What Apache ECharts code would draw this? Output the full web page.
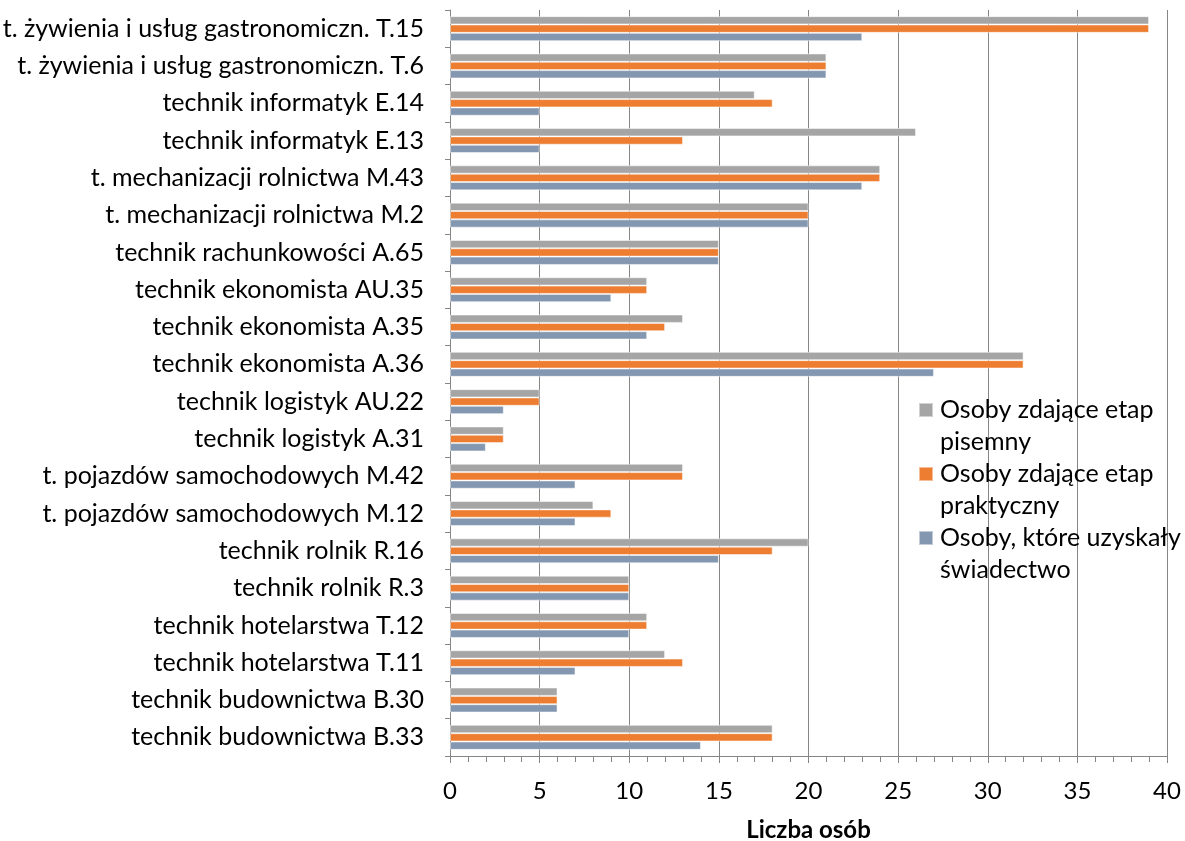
<!DOCTYPE html>
<html>
<head>
<meta charset="utf-8">
<script src="https://cdn.jsdelivr.net/npm/echarts@6/dist/echarts.min.js"></script>
<style>
html,body{margin:0;padding:0;background:#fff;}
#chart{width:1185px;height:841px;}
</style>
</head>
<body>
<div id="chart"></div>
<script>
const categories = [
  't. żywienia i usług gastronomiczn. T.15',
  't. żywienia i usług gastronomiczn. T.6',
  'technik informatyk E.14',
  'technik informatyk E.13',
  't. mechanizacji rolnictwa M.43',
  't. mechanizacji rolnictwa M.2',
  'technik rachunkowości A.65',
  'technik ekonomista AU.35',
  'technik ekonomista A.35',
  'technik ekonomista A.36',
  'technik logistyk AU.22',
  'technik logistyk A.31',
  't. pojazdów samochodowych M.42',
  't. pojazdów samochodowych M.12',
  'technik rolnik R.16',
  'technik rolnik R.3',
  'technik hotelarstwa T.12',
  'technik hotelarstwa T.11',
  'technik budownictwa B.30',
  'technik budownictwa B.33'
];
const seriesNames = [
  'Osoby zdające etap\npisemny',
  'Osoby zdające etap\npraktyczny',
  'Osoby, które uzyskały\nświadectwo'
];
const pisemny =   [39, 21, 17, 26, 24, 20, 15, 11, 13, 32, 5, 3, 13, 8, 20, 10, 11, 12, 6, 18];
const praktyczny =[39, 21, 18, 13, 24, 20, 15, 11, 12, 32, 5, 3, 13, 9, 18, 10, 11, 13, 6, 18];
const swiadectwo =[23, 21, 5, 5, 23, 20, 15, 9, 11, 27, 3, 2, 7, 7, 15, 10, 10, 7, 6, 14];
const xTicks = [0, 5, 10, 15, 20, 25, 30, 35, 40];
const axisTitle = 'Liczba osób';

const colors = ['#A5A5A5', '#ED7D31', '#8497B0'];
const FONT = 'Lato';
const chart = echarts.init(document.getElementById('chart'));
const dataArr = [pisemny, praktyczny, swiadectwo];
chart.setOption({
  animation: false,
  textStyle: {fontFamily: FONT},
  grid: {left: 450, right: 18, top: 10, bottom: 85, containLabel: false, outerBoundsMode: 'none'},
  legend: {
    orient: 'vertical',
    left: 918, top: 394,
    padding: 0,
    itemWidth: 14, itemHeight: 46, itemGap: 0,
    icon: 'path://M0,0H14V14H0Z M0,45.95H0.05V46H0Z',
    data: seriesNames,
    textStyle: {fontFamily: FONT, fontSize: 25, color: '#000', lineHeight: 32, padding: [0,0,0,2]}
  },
  xAxis: {
    type: 'value',
    min: xTicks[0], max: xTicks[xTicks.length-1], interval: 5,
    name: axisTitle, nameLocation: 'middle', nameGap: 62,
    nameTextStyle: {fontFamily: FONT, fontSize: 24, fontWeight: 'bold', color: '#000'},
    axisLine: {show: true, lineStyle: {color: '#868686', width: 1}},
    axisTick: {show: true, length: 7, lineStyle: {color: '#868686'}},
    minorTick: {show: true, splitNumber: 5, length: 6, lineStyle: {color: '#868686'}},
    axisLabel: {fontFamily: FONT, fontSize: 24, color: '#000', margin: 23},
    splitLine: {show: true, lineStyle: {color: '#868686', width: 1}}
  },
  yAxis: {
    type: 'category',
    inverse: true,
    data: categories,
    axisLine: {show: true, lineStyle: {color: '#868686', width: 1}},
    axisTick: {show: true, length: 5, lineStyle: {color: '#868686'}},
    axisLabel: {fontFamily: FONT, fontSize: 25, color: '#000', margin: 26},
    splitLine: {show: false}
  },
  series: seriesNames.map((n, i) => ({
    name: n,
    type: 'bar',
    data: dataArr[i],
    barGap: '0%',
    barCategoryGap: '33%',
    itemStyle: {color: colors[i], borderColor: 'rgba(255,255,255,0.5)', borderWidth: 1}
  }))
});
</script>
</body>
</html>
